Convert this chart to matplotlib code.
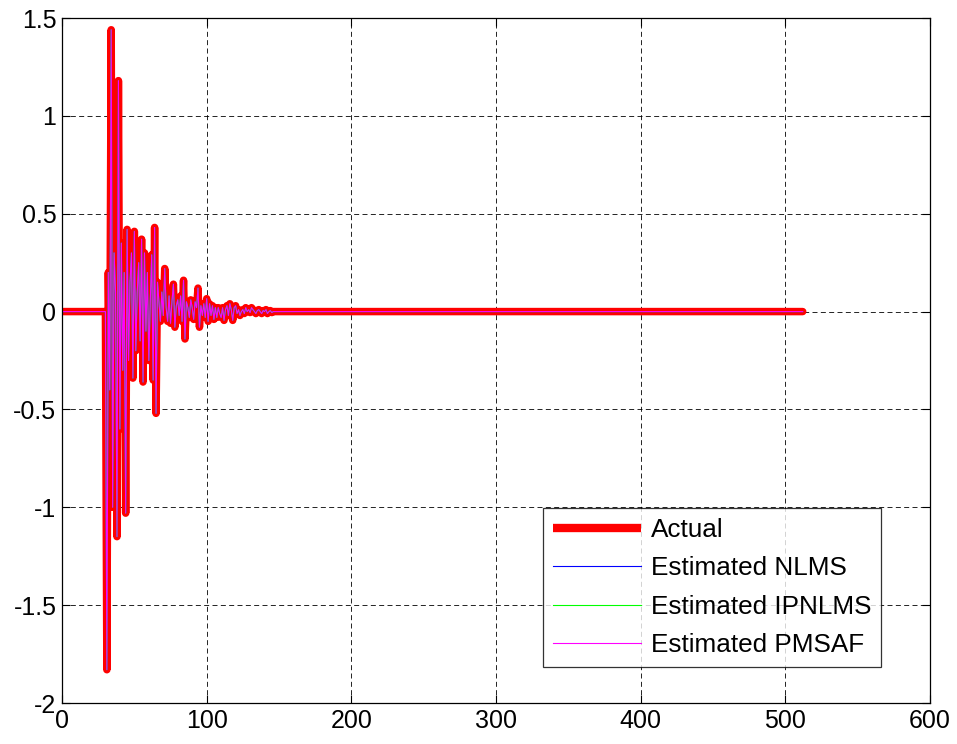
import numpy as np
import matplotlib
matplotlib.use("Agg")
import matplotlib.pyplot as plt

plt.rcParams['font.family'] = ['Liberation Sans', 'DejaVu Sans']
plt.rcParams['axes.unicode_minus'] = False

# Impulse response: 512 taps, all zero except the region starting at tap 31
n_taps = 512
first_tap = 31
response_taps = [
    -1.83, 0.20, -0.40, 1.44, -1.00, 0.30, 0.10, -1.15, 1.18, -0.60,
    0.35, -0.30, 0.20, -1.03, 0.42, -0.25, 0.15, 0.30, -0.34, 0.41,
    -0.20, 0.10, 0.25, -0.15, 0.37, -0.36, 0.30, -0.10, 0.20, -0.25,
    0.05, 0.29, -0.35, 0.43, -0.52, 0.15, 0.05, -0.05, 0.10, -0.02,
    0.22, 0.02, -0.05, 0.08, -0.06, 0.05, 0.14, -0.08, 0.03, 0.06,
    -0.02, 0.08, -0.05, 0.16, -0.14, 0.05, 0.02, -0.03, 0.06, 0.02,
    -0.04, 0.05, 0.02, 0.12, -0.08, 0.03, -0.02, 0.04, -0.03, 0.066,
    -0.05, 0.04, -0.02, 0.03, -0.04, 0.02, -0.03, 0.02, -0.01, -0.03,
    0.02, -0.045, 0.01, 0.03, -0.02, 0.04, 0.01, -0.045, 0.02, 0.03,
    -0.01, 0.01, -0.02, 0.00, 0.01, -0.01, 0.02, 0.00, 0.01, -0.005,
    0.02, 0.01, 0.00, -0.01, 0.005, 0.01, 0.00, -0.01, 0.005, 0.00,
    0.01, -0.01, 0.00, 0.005, -0.005, 0.00,
]

actual = np.zeros(n_taps)
actual[first_tap - 1:first_tap - 1 + len(response_taps)] = response_taps
est_nlms = actual.copy()
est_ipnlms = actual.copy()
est_pmsaf = actual.copy()
taps = np.arange(1, n_taps + 1)

y_ticks = [-2, -1.5, -1, -0.5, 0, 0.5, 1, 1.5]
y_tick_labels = ['-2', '-1.5', '-1', '-0.5', '0', '0.5', '1', '1.5']
x_ticks = [0, 100, 200, 300, 400, 500, 600]

fig = plt.figure(figsize=(9.57, 7.44), dpi=100)
ax = fig.add_axes([0.0648, 0.0551, 0.9070, 0.9207])

line_kw = dict(solid_joinstyle='round', solid_capstyle='round')
ax.plot(taps, actual, color='#ff0000', lw=5.4, label='Actual', **line_kw)
ax.plot(taps, est_nlms, color='#0000ff', lw=0.8, label='Estimated NLMS')
ax.plot(taps, est_ipnlms, color='#00ff00', lw=0.8, label='Estimated IPNLMS')
ax.plot(taps, est_pmsaf, color='#ff00ff', lw=0.8, label='Estimated PMSAF')

ax.set_xlim(0, 600)
ax.set_ylim(-2, 1.5)
ax.set_xticks(x_ticks)
ax.set_xticklabels([str(t) for t in x_ticks])
ax.set_yticks(y_ticks)
ax.set_yticklabels(y_tick_labels)

ax.grid(True, color='black', linestyle=(0, (6, 4)), linewidth=0.6)
ax.tick_params(direction='in', length=6, width=0.8, top=True, right=True,
               labelsize=18, pad=4, colors='black')
for s in ax.spines.values():
    s.set_linewidth(0.9)
    s.set_color('black')

leg = ax.legend(loc='lower right', bbox_to_anchor=(0.9435, 0.0526),
                borderaxespad=0, fontsize=18.8, frameon=True, fancybox=False,
                edgecolor='black', handlelength=3.35, handletextpad=0.38,
                labelspacing=0.55, borderpad=0.38)
leg.get_frame().set_linewidth(0.9)
leg.get_lines()[0].set_solid_capstyle('butt')
leg.get_lines()[0].set_linewidth(6)

fig.savefig('out.png', dpi=100)
